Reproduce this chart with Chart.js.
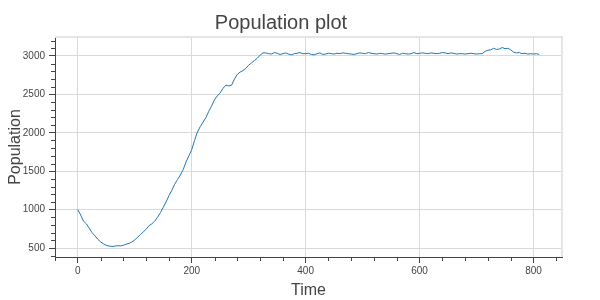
<!DOCTYPE html>
<html>
<head>
<meta charset="utf-8">
<script src="https://cdn.jsdelivr.net/npm/chart.js@4.4.1/dist/chart.umd.min.js"></script>
<style>
  html, body { margin: 0; padding: 0; background: #fff; }
  #wrap { width: 600px; height: 300px; }
</style>
</head>
<body>
<div id="wrap"><canvas id="popChart"></canvas></div>
<script>
// time steps (every 5 units) and population
var timeSteps = [];
for (var t = 0; t <= 810; t += 5) { timeSteps.push(t); }

var population = [
  1000, 930, 850, 815, 760, 700, 660, 615, 580, 555,
  535, 525, 520, 525, 530, 528, 535, 550, 560, 580,
  605, 640, 675, 710, 745, 790, 815, 850, 900, 960,
  1030, 1100, 1180, 1250, 1330, 1390, 1450, 1520, 1620, 1700,
  1780, 1900, 2010, 2080, 2140, 2200, 2280, 2350, 2430, 2480,
  2520, 2580, 2620, 2610, 2620, 2700, 2760, 2790, 2810, 2840,
  2880, 2910, 2940, 2970, 3010, 3040, 3040, 3030, 3025, 3045,
  3035, 3020, 3030, 3040, 3025, 3015, 3030, 3035, 3045, 3030,
  3030, 3035, 3020, 3015, 3030, 3040, 3020, 3025, 3035, 3030,
  3025, 3035, 3030, 3040, 3035, 3030, 3025, 3020, 3030, 3040,
  3035, 3030, 3045, 3035, 3030, 3025, 3035, 3030, 3025, 3030,
  3035, 3040, 3030, 3020, 3035, 3030, 3025, 3030, 3045, 3030,
  3035, 3040, 3035, 3030, 3040, 3035, 3030, 3035, 3045, 3040,
  3030, 3040, 3035, 3025, 3030, 3030, 3025, 3030, 3035, 3030,
  3025, 3030, 3030, 3060, 3075, 3080, 3100, 3085, 3090, 3110,
  3095, 3100, 3080, 3050, 3040, 3045, 3030, 3035, 3025, 3030,
  3025, 3030, 3020
];

var xMajor = [0, 200, 400, 600, 800];
var yMajor = [500, 1000, 1500, 2000, 2500, 3000];

var points = [];
for (var i = 0; i < timeSteps.length; i++) {
  points.push({ x: timeSteps[i], y: population[i] });
}

// bokeh-like minor ticks + light outline
var minorTicks = {
  id: 'minorTicks',
  afterDraw: function(chart) {
    var ctx = chart.ctx;
    var a = chart.chartArea;
    var xs = chart.scales.x, ys = chart.scales.y;
    ctx.save();
    ctx.strokeStyle = '#e5e5e5';
    ctx.lineWidth = 2;
    ctx.beginPath();
    ctx.moveTo(a.left, a.top); ctx.lineTo(a.right, a.top); ctx.lineTo(a.right, a.bottom);
    ctx.stroke();
    ctx.strokeStyle = '#444';
    ctx.lineWidth = 1;
    ctx.beginPath();
    for (var v = -40; v <= 840; v += 40) {
      if (v % 200 === 0) continue;
      var px = Math.round(xs.getPixelForValue(v)) + 0.5;
      ctx.moveTo(px, a.bottom); ctx.lineTo(px, a.bottom + 4);
    }
    for (var w = 400; w <= 3200; w += 100) {
      if (w % 500 === 0) continue;
      var py = Math.round(ys.getPixelForValue(w)) + 0.5;
      ctx.moveTo(a.left, py); ctx.lineTo(a.left - 4, py);
    }
    ctx.stroke();
    ctx.restore();
  }
};

function plain(v) { return String(v); }

new Chart(document.getElementById('popChart'), {
  type: 'line',
  data: {
    datasets: [{
      data: points,
      borderColor: '#1f77b4',
      borderWidth: 1,
      pointRadius: 0,
      tension: 0
    }]
  },
  options: {
    responsive: true,
    maintainAspectRatio: false,
    animation: false,
    layout: { padding: { left: 0, right: 38, top: 0, bottom: 0 } },
    plugins: {
      legend: { display: false },
      tooltip: { enabled: false },
      title: {
        display: true,
        text: 'Population plot',
        color: '#444',
        font: { family: 'Liberation Sans', size: 20, weight: 'normal' },
        padding: { top: 11, bottom: 2 }
      }
    },
    scales: {
      x: {
        type: 'linear',
        min: -40,
        max: 850,
        afterBuildTicks: function(s) {
          s.ticks = xMajor.map(function(v) { return { value: v }; });
        },
        afterFit: function(s) { s.height = 43; },
        ticks: {
          color: '#444',
          font: { family: 'Liberation Sans', size: 10 },
          padding: 2,
          maxRotation: 0,
          callback: plain
        },
        grid: { color: '#d9d9d9', tickColor: '#444', tickLength: 6 },
        border: { color: '#444', width: 1 },
        title: {
          display: true,
          text: 'Time',
          color: '#444',
          font: { family: 'Liberation Sans', size: 16 },
          padding: { top: 2, bottom: 0 }
        }
      },
      y: {
        min: 383,
        max: 3247,
        afterBuildTicks: function(s) {
          s.ticks = yMajor.map(function(v) { return { value: v }; });
        },
        afterFit: function(s) { s.width = 55; },
        ticks: {
          color: '#444',
          font: { family: 'Liberation Sans', size: 10 },
          padding: 4,
          callback: plain
        },
        grid: { color: '#d9d9d9', tickColor: '#444', tickLength: 6 },
        border: { color: '#444', width: 1 },
        title: {
          display: true,
          text: 'Population',
          color: '#444',
          font: { family: 'Liberation Sans', size: 16 },
          padding: { top: 6, bottom: 0 }
        }
      }
    }
  },
  plugins: [minorTicks]
});
</script>
</body>
</html>
